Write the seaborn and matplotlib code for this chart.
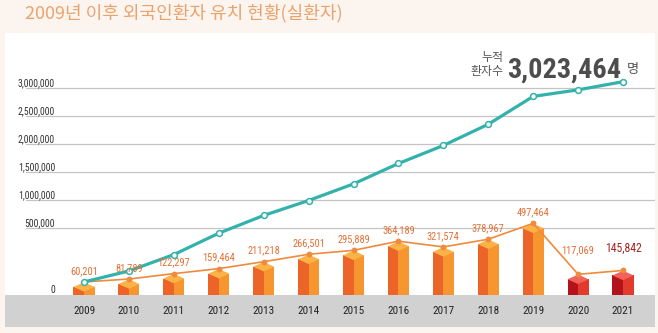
import numpy as np
import pandas as pd
import matplotlib
matplotlib.use("Agg")
import matplotlib.pyplot as plt
from matplotlib import font_manager as fm
from matplotlib.path import Path
from matplotlib.markers import MarkerStyle
from matplotlib.transforms import ScaledTranslation
import seaborn as sns

# ---------------- data ----------------
years = ["2009", "2010", "2011", "2012", "2013", "2014", "2015",
         "2016", "2017", "2018", "2019", "2020", "2021"]
patients = [60201, 81789, 122297, 159464, 211218, 266501, 295889,
            364189, 321574, 378967, 497464, 117069, 145842]
cumulative = [60201, 141990, 264287, 423751, 634969, 901470, 1198359,
              1562548, 1884122, 2263089, 2760553, 2877622, 3023464]
y_ticks = [0, 500000, 1000000, 1500000, 2000000, 2500000, 3000000]
y_tick_labels = ["0", "500,000", "1,000,000", "1,500,000", "2,000,000",
                 "2,500,000", "3,000,000"]
title = "2009년 이후 외국인환자 유치 현황(실환자)"
total_label = "3,023,464"

# ---------------- style ----------------
BG = "#fcf4ee"
ORANGE_L, ORANGE_R, ORANGE_T = "#ec6428", "#f7962f", "#fbb348"
RED_L, RED_R, RED_T = "#b3141c", "#e23a2c", "#f2615a"
TEAL = "#33b2ac"
LINE_ORANGE = "#f08a3c"
LABEL_ORANGE = "#e66f34"
KR = ["Noto Sans CJK KR", "DejaVu Sans"]


def pick_font(cands):
    for fam, stretch in cands:
        try:
            fp = fm.FontProperties(family=fam, stretch=stretch)
            path = fm.findfont(fp, fallback_to_default=False)
            name = fm.FontProperties(fname=path).get_name()
            if name.lower().startswith(fam.lower().split()[0]):
                return fam, stretch
        except Exception:
            pass
    return "DejaVu Sans", "normal"


NARROW_FAM, NARROW_STRETCH = pick_font([
    ("Roboto Condensed", "normal"),
    ("Liberation Sans Narrow", "normal"),
    ("DejaVu Sans", "condensed"),
])
NARROW = [NARROW_FAM, "DejaVu Sans"]

sns.set_theme(style="white")
plt.rcParams["font.family"] = NARROW
plt.rcParams["font.stretch"] = NARROW_STRETCH

fig = plt.figure(figsize=(6.58, 3.33), dpi=100, facecolor=BG)
W, H = 658, 333
ax = fig.add_axes([5 / W, (H - 327) / H, 650 / W, 294 / H])
ax.set_facecolor("white")


# piecewise scale (compressed above 500,000, like the infographic)
def fwd(v):
    v = np.asarray(v, dtype=float)
    return np.where(v <= 5e5, v / 5e5 * 67, 67 + (v - 5e5) / 5e5 * 28)


def inv(p):
    p = np.asarray(p, dtype=float)
    return np.where(p <= 67, p / 67 * 5e5, 5e5 + (p - 67) / 28 * 5e5)


n = len(years)
idx = np.arange(n)
group = ["normal"] * 11 + ["covid"] * 2

df = pd.DataFrame({
    "year": years * 2,
    "value": patients * 2,
    "face": ["left"] * n + ["right"] * n,
})

sns.barplot(data=df, x="year", y="value", hue="face", dodge=True,
            width=0.47, gap=0, palette={"left": ORANGE_L, "right": ORANGE_R},
            saturation=1, errorbar=None, legend=False, ax=ax, zorder=3,
            linewidth=0)
for ci, cont in enumerate(ax.containers[:2]):
    for bar, g in zip(cont.patches, group):
        if g == "covid":
            bar.set_facecolor(RED_L if ci == 0 else RED_R)
        bar.set_edgecolor("none")

ax.set_yscale("function", functions=(fwd, inv))
ax.set_ylim(float(inv(-32)), float(inv(262)))
ax.set_xlim(-1.759, 12.712)
ax.set_axisbelow(False)

# grey base band
ax.axhspan(float(inv(-40)), 0, color="#d1d1d1", zorder=1, lw=0)

# gridlines
for t in y_ticks[1:]:
    ax.axhline(t, xmin=21 / 650, xmax=1, color="#c4c4c4", lw=0.9, zorder=1)

# bar tops (isometric cap)
cap = Path([(-1, 0), (0, 0.45), (1, 0), (0, -0.45), (-1, 0)],
           [Path.MOVETO, Path.LINETO, Path.LINETO, Path.LINETO, Path.CLOSEPOLY])
cap_colors = [RED_T if g == "covid" else ORANGE_T for g in group]
ax.scatter(idx, patients, marker=MarkerStyle(cap), s=15.2 ** 2,
           c=cap_colors, linewidths=0, zorder=4)

shift = ScaledTranslation(0, 5 / 100, fig.dpi_scale_trans)

sns.lineplot(x=idx, y=patients, color=LINE_ORANGE, lw=1.2, marker="o",
             markersize=4.2, markeredgewidth=0, ax=ax, zorder=5)
ax.lines[-1].set_transform(ax.transData + shift)

sns.lineplot(x=idx, y=cumulative, color=TEAL, lw=2.3, marker="o",
             markersize=4.2, markerfacecolor="white", markeredgecolor=TEAL,
             markeredgewidth=1.1, ax=ax, zorder=6)
ax.lines[-1].set_transform(ax.transData + shift)

# value labels
label_offsets = [8] * 11 + [17, 15]
label_colors = [LABEL_ORANGE] * 12 + ["#a3231f"]
label_sizes = [7.5] * 12 + [8.5]
for i, (v, off, col, fs) in enumerate(zip(patients, label_offsets,
                                          label_colors, label_sizes)):
    ax.annotate(f"{v:,}", (i, v), xytext=(0, off), textcoords="offset points",
                ha="center", va="bottom", fontsize=fs, color=col, zorder=7)

# ticks
ax.set_yticks(y_ticks)
ax.set_yticklabels(y_tick_labels)
ax.tick_params(axis="y", direction="in", length=0, pad=-36, labelsize=7,
               labelcolor="#333333")
for lab in ax.get_yticklabels():
    lab.set_horizontalalignment("right")
    lab.set_verticalalignment("bottom")
ax.set_xticks(idx)
ax.set_xticklabels(years)
ax.tick_params(axis="x", direction="in", length=0, pad=-15, labelsize=8,
               labelcolor="#222222")
ax.set_xlabel("")
ax.set_ylabel("")
for s in ax.spines.values():
    s.set_visible(False)
ax.grid(False)
ax.xaxis.set_zorder(8)
ax.yaxis.set_zorder(8)

# title
fig.text(25 / W, 1 - 13 / H, title, ha="left", va="center", fontsize=13,
         color="#e9a46e", family=KR)

# total annotation
fig.text(503 / W, 1 - 58 / H, "누적", ha="right", va="center", fontsize=8.6,
         color="#555555", family=KR)
fig.text(503 / W, 1 - 72 / H, "환자수", ha="right", va="center", fontsize=8.6,
         color="#555555", family=KR)
big = fig.text(507 / W, 1 - 78 / H, total_label, ha="left", va="baseline",
               fontsize=22, fontweight="bold", color="#4d4d4d")
r = fig.canvas.get_renderer()
wpx = big.get_window_extent(r).width
if wpx > 114:
    big.set_fontsize(22 * 114 / wpx)
big_right = big.get_window_extent(r).x1
fig.text((big_right + 6) / W, 1 - 70 / H, "명", ha="left", va="center",
         fontsize=9.5, color="#555555", family=KR)

fig.savefig("out.png", dpi=100, facecolor=BG)
